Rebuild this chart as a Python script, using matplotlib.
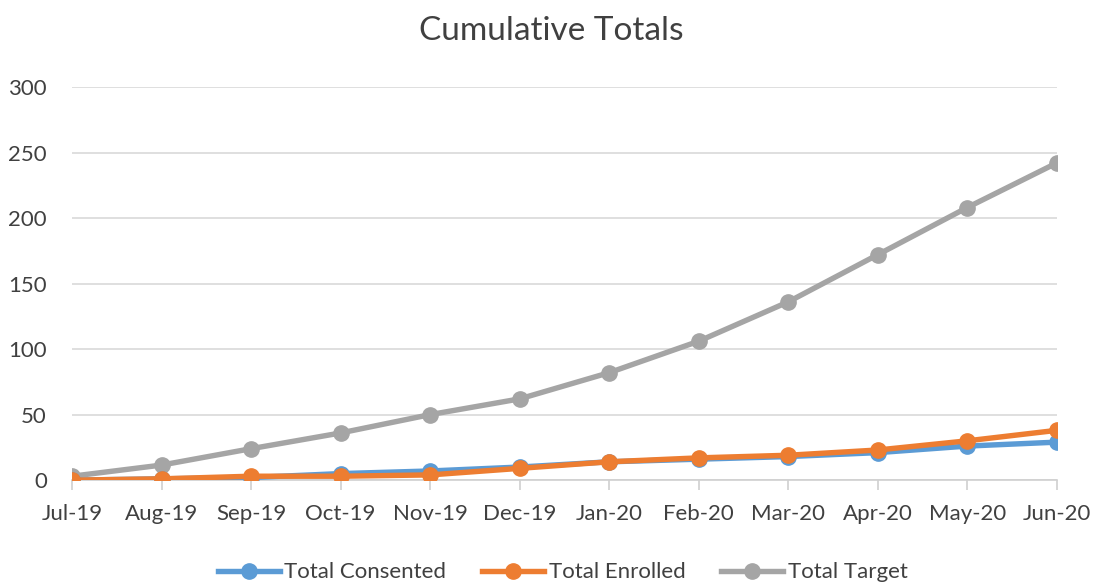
import matplotlib
matplotlib.use("Agg")
import matplotlib.pyplot as plt

plt.rcParams['font.family'] = ['Lato', 'DejaVu Sans']

months = ['Jul-19', 'Aug-19', 'Sep-19', 'Oct-19', 'Nov-19', 'Dec-19',
          'Jan-20', 'Feb-20', 'Mar-20', 'Apr-20', 'May-20', 'Jun-20']
consented = [0, 1, 2, 5, 7, 10, 14, 16, 18, 21, 26, 29]
enrolled = [0, 1, 3, 3, 4, 9, 14, 17, 19, 23, 30, 38]
target = [3, 11.5, 24, 36, 50, 62, 82, 106, 136, 172, 208, 242]

fig = plt.figure(figsize=(11.03, 5.82), dpi=100)
ax = fig.add_axes([0.0653, 0.175, 0.8927, 0.6755])

x = list(range(len(months)))
ax.plot(x, consented, color='#5b9bd5', lw=3.9, marker='o', ms=11, label='Total Consented', zorder=3)
ax.plot(x, enrolled, color='#ed7d31', lw=3.9, marker='o', ms=11, label='Total Enrolled', zorder=4)
ax.plot(x, target, color='#a5a5a5', lw=3.9, marker='o', ms=11, label='Total Target', zorder=2)

ax.set_xlim(0, len(months) - 1)
ax.set_ylim(0, 300)
ax.set_yticks(range(0, 301, 50))
ax.set_xticks(x)
ax.set_xticklabels(months)
ax.grid(axis='y', color='#d9d9d9', lw=1.2)
ax.set_axisbelow(True)
for s in ['top', 'right', 'left']:
    ax.spines[s].set_visible(False)
ax.spines['bottom'].set_color('#d0d0d0')
ax.spines['bottom'].set_linewidth(1.2)
ax.spines['bottom'].set_zorder(1)
ax.tick_params(axis='x', colors='#d0d0d0', length=7, width=1.2, pad=10, labelcolor='#404040', labelsize=16)
ax.tick_params(axis='y', length=0, pad=18, labelcolor='#404040', labelsize=16)

fig.suptitle('Cumulative Totals', x=0.5, y=0.972, fontsize=24, color='#404040')
fig.legend(loc='lower center', ncol=3, bbox_to_anchor=(0.51, -0.035), frameon=False,
           fontsize=16, handlelength=2.8, columnspacing=1.6, labelcolor='#404040',
           handletextpad=0.2)

fig.savefig('out.png', dpi=100)
